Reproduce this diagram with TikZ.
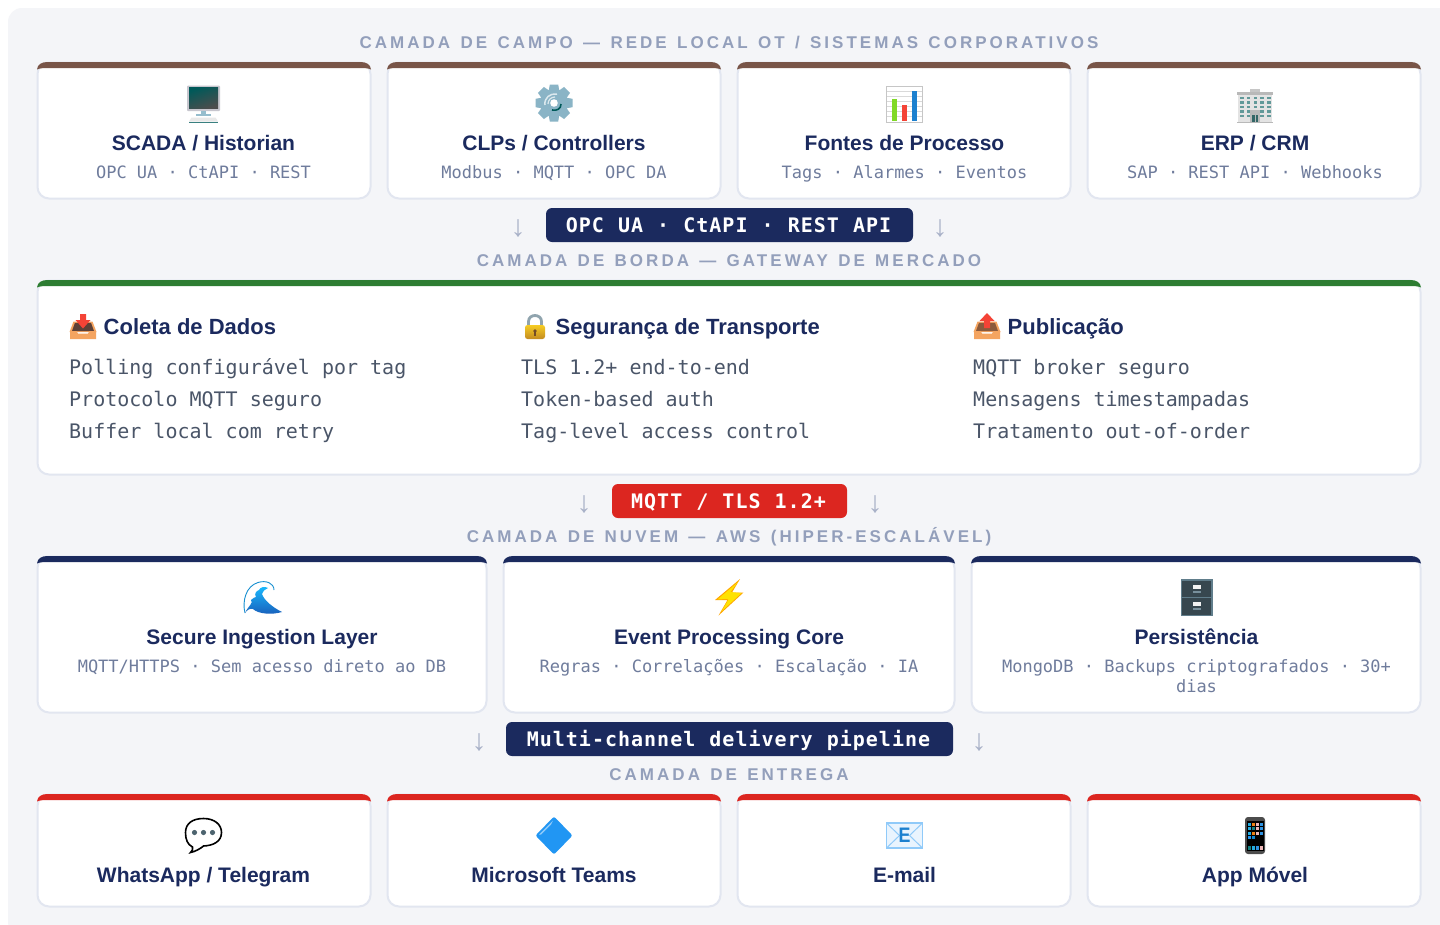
\documentclass[tikz,border=0pt]{standalone}
\usepackage{fontspec}
\setmainfont{Liberation Sans}
\newfontfamily\monof{DejaVu Sans Mono}
\newfontfamily\labelf[LetterSpace=17.8,WordSpace=1.33]{Liberation Sans}
\newfontfamily\badgef[LetterSpace=5,WordSpace=1.08,BoldFont={DejaVu Sans Mono Bold}]{DejaVu Sans Mono}
\definecolor{panelbg}{HTML}{F4F5F8}
\definecolor{cardline}{HTML}{E2E6F0}
\definecolor{navy}{HTML}{1B2A5E}
\definecolor{brownb}{HTML}{795548}
\definecolor{greenb}{HTML}{2E7D32}
\definecolor{redb}{HTML}{DC2620}
\definecolor{subc}{HTML}{6F7C9C}
\definecolor{labc}{HTML}{939FBB}
\definecolor{bodyc}{HTML}{4A5568}
\definecolor{arrc}{HTML}{A8B1C8}
\definecolor{gearc}{HTML}{8AB4C6}
\definecolor{trayc}{HTML}{F4A460}
\definecolor{trayd}{HTML}{5D4037}
\definecolor{traye}{HTML}{8B5A3C}
\definecolor{arrowred}{HTML}{F44336}
\definecolor{gold}{HTML}{F2B632}
\definecolor{shackle}{HTML}{90A4AE}
\definecolor{frameb}{HTML}{607D8B}
\definecolor{drawer}{HTML}{37474F}
\definecolor{handle}{HTML}{78909C}
\definecolor{skyb}{HTML}{2196F3}
\definecolor{paleb}{HTML}{90CAF9}
\tikzset{
 cardbox/.style={draw=cardline,fill=white,line width=2pt,rounded corners=11.5pt,inner sep=0pt,outer sep=0pt},
 ttl/.style={anchor=base,font=\fontsize{21}{26}\selectfont\bfseries,text=navy,inner sep=0pt},
 sub/.style={anchor=base,font=\fontsize{17}{20}\selectfont\monof,text=subc,inner sep=0pt,align=center},
 lab/.style={anchor=base,font=\fontsize{17}{20}\selectfont\bfseries\labelf,text=labc,inner sep=0pt},
 head/.style={anchor=base west,font=\fontsize{22}{26}\selectfont\bfseries,text=navy,inner sep=0pt},
 bodyt/.style={anchor=base west,font=\fontsize{20}{24}\selectfont\monof,text=bodyc,inner sep=0pt},
 badge/.style={rounded corners=6pt,inner sep=0pt,outer sep=0pt,text=white,text height=15pt,text depth=0pt,font=\fontsize{20}{24}\selectfont\badgef\bfseries},
 arr/.style={anchor=center,font=\fontsize{30}{30}\selectfont,text=arrc,inner sep=0pt},
}
% name, x1, y1, x2, y2, colour
\newcommand{\cardat}[6]{%
 \pgfmathsetmacro{\cw}{#4-#2-1}\pgfmathsetmacro{\ch}{#5-#3-1}%
 \pgfmathsetmacro{\cx}{(#2+#4)/2}\pgfmathsetmacro{\cy}{(#3+#5)/2}%
 \node[cardbox,minimum width=\cw pt,minimum height=\ch pt] (#1) at (\cx,\cy) {};
 \pgfmathsetmacro{\xa}{#2-0.5}\pgfmathsetmacro{\xb}{#4+0.5}\pgfmathsetmacro{\ya}{#3}%
 \fill[#6] (\xa+0.5,\ya+7.5) .. controls (\xa+1,\ya+2.5) and (\xa+5,\ya) .. (\xa+11,\ya) -- (\xb-11,\ya)
   .. controls (\xb-5,\ya) and (\xb-1,\ya+2.5) .. (\xb-0.5,\ya+7.5)
   .. controls (\xb-3,\ya+6.2) and (\xb-7,\ya+6) .. (\xb-12,\ya+6) -- (\xa+12,\ya+6)
   .. controls (\xa+7,\ya+6) and (\xa+3,\ya+6.2) .. cycle;
}
% tray icon: x,y centre, inner colour
\newcommand{\tray}[3]{%
 \begin{scope}[shift={(#1,#2)}]
  \fill[trayc] (-13.5,6) -- (-9.5,-4.5) -- (9.5,-4.5) -- (13.5,6) -- cycle;
  \fill[#3] (-11,5) -- (-8,-3.2) -- (8,-3.2) -- (11,5) -- cycle;
  \fill[trayc] (-13,5) -- (-6.5,5) -- (-5,7.5) -- (5,7.5) -- (6.5,5) -- (13,5) -- (13,13) -- (-13,13) -- cycle;
 \end{scope}}
\begin{document}
\begin{tikzpicture}[x=1pt,y=-1pt]
\useasboundingbox (0,0) rectangle (1440,924);
\fill[white] (0,0) rectangle (1440,924);
\begin{scope}
\clip (0,0) rectangle (1440,924);
\fill[panelbg,rounded corners=14pt] (8,8) rectangle (1470,936);
\end{scope}

% ---- layer labels
\node[lab] (lab1) at (729,48) {CAMADA DE CAMPO — REDE LOCAL OT / SISTEMAS CORPORATIVOS};
\node[lab] (lab2) at (729,266) {CAMADA DE BORDA — GATEWAY DE MERCADO};
\node[lab] (lab3) at (729,542) {CAMADA DE NUVEM — AWS (HIPER-ESCALÁVEL)};
\node[lab] (lab4) at (729,780) {CAMADA DE ENTREGA};

% ---- field row
\cardat{c1}{37}{62}{371}{199}{brownb}
\cardat{c2}{387}{62}{721}{199}{brownb}
\cardat{c3}{737}{62}{1071}{199}{brownb}
\cardat{c4}{1087}{62}{1421}{199}{brownb}
\node[ttl] (t1) at (203.5,150.5) {SCADA / Historian};
\node[ttl] (t2) at (554,150.5) {CLPs / Controllers};
\node[ttl] (t3) at (904.5,150.5) {Fontes de Processo};
\node[ttl] (t4) at (1255,150.5) {ERP / CRM};
\node[sub] (s1) at (203.5,178) {OPC UA · CtAPI · REST};
\node[sub] (s2) at (554,178) {Modbus · MQTT · OPC DA};
\node[sub] (s3) at (904.5,178) {Tags · Alarmes · Eventos};
\node[sub] (s4) at (1255,178) {SAP · REST API · Webhooks};

% monitor icon
\begin{scope}[shift={(203.5,103.5)}]
 \fill[rounded corners=1pt,cyan!18!blue!12!gray!45] (-16.5,-18) rectangle (16.5,7.5);
 \shade[left color=teal!70!black,right color=black!70,shading angle=20] (-14.5,-16) rectangle (14.5,5);
 \fill[cyan!40!gray!70] (-2.5,7.5) rectangle (2.5,10.5);
 \fill[cyan!40!gray!70] (-7.5,10.5) rectangle (7.5,12.5);
 \fill[gray!18] (-12,14) -- (12,14) -- (14.5,18) -- (-14.5,18) -- cycle;
 \fill[teal!55!gray] (-14.5,18) rectangle (14.5,19.5);
\end{scope}

% gear icon
\begin{scope}[shift={(554,103)}]
 \foreach \a in {0,45,...,315}{\fill[gearc,rotate=\a] (-4.2,-18.5) -- (4.2,-18.5) -- (5.5,-11) -- (-5.5,-11) -- cycle;}
 \fill[gearc] (0,0) circle (14);
 \draw[white!70!gearc,line width=1.5pt] (-9,2) .. controls (-10,-5) and (-4,-10) .. (3,-9);
 \draw[white!70!gearc,line width=1.2pt] (-6,1) .. controls (-6,-3) and (-3,-6) .. (1,-6);
 \draw[teal!70!black,line width=1.6pt] (7,1) .. controls (7,6) and (3,8) .. (-2,7);
 \fill[white] (0,0) circle (3.8);
\end{scope}

% chart icon
\begin{scope}[shift={(904.5,104)}]
 \fill[white] (-18,-18) rectangle (18,18);
 \foreach \y in {-13,-8,...,12}{\draw[gray!30,line width=0.7pt] (-18,\y) -- (18,\y);}
 \draw[gray!45,line width=1pt] (-18,-18) rectangle (18,18);
 \fill[green!50!yellow!70!gray] (-13,-5) rectangle (-8,17);
 \fill[arrowred] (-3,0.5) rectangle (2,17);
 \fill[skyb!85!black] (7,-13) rectangle (12,17);
\end{scope}

% building icon
\begin{scope}[shift={(1255,105.5)}]
 \fill[gray!45] (-5,-17) rectangle (5,-13.5);
 \fill[gray!55] (-18,-14) rectangle (18,-11);
 \fill[gray!22] (-17,-11) rectangle (17,16);
 \foreach \y in {-9,-4.5,0,4.5,9}{\foreach \x in {-15,-8.5,-1.5,5,12}{\fill[teal!55!gray!80] (\x,\y) rectangle +(3.6,2.5);}}
 \fill[gray!55] (-5,4) rectangle (5,16);
 \fill[teal!50!black!80] (-3,9) rectangle (-0.5,16);
 \fill[teal!50!black!80] (0.5,9) rectangle (3,16);
 \fill[gray!55] (-18,16) rectangle (18,17.5);
\end{scope}

% ---- connector glyphs and badge
\node[arr] (a1) at (518,229) {↓};
\node[arr] (a2) at (940,229) {↓};
\node[badge,fill=navy,minimum width=367pt,minimum height=34pt] (b1) at (729.5,225) {\hspace*{-2pt}OPC UA · CtAPI · REST API};

% ---- gateway
\cardat{gw}{37}{280}{1421}{475}{greenb}
\tray{83}{326}{trayd}
\fill[arrowred] (80,314) -- (86,314) -- (86,320) -- (90.5,320) -- (83,328.5) -- (75.5,320) -- (80,320) -- cycle;
\begin{scope}[shift={(535,327)}]
 \draw[shackle,line width=2.8pt] (-6.5,2) -- (-6.5,-5.5) .. controls (-6.5,-13.5) and (6.5,-13.5) .. (6.5,-5.5) -- (6.5,2);
 \shade[top color=gold!70!yellow,bottom color=gold!85!orange!80!black,rounded corners=2.5pt] (-10,-2) rectangle (10,12);
 \fill[brown!60!black] (0,4) circle (1.9);
 \fill[brown!60!black] (-0.8,4) rectangle (0.8,8.5);
\end{scope}
\tray{987}{326}{traye}
\fill[arrowred] (987,313) -- (994.5,321) -- (990,321) -- (990,328) -- (984,328) -- (984,321) -- (979.5,321) -- cycle;
\node[head] (h1) at (103.5,334.5) {Coleta de Dados};
\node[head] (h2) at (555.5,334.5) {Segurança de Transporte};
\node[head] (h3) at (1007.5,334.5) {Publicação};
\node[bodyt] (p11) at (69,374) {Polling configurável por tag};
\node[bodyt] (p12) at (69,406) {Protocolo MQTT seguro};
\node[bodyt] (p13) at (69,438) {Buffer local com retry};
\node[bodyt] (p21) at (521,374) {TLS 1.2+ end-to-end};
\node[bodyt] (p22) at (521,406) {Token-based auth};
\node[bodyt] (p23) at (521,438) {Tag-level access control};
\node[bodyt] (p31) at (973,374) {MQTT broker seguro};
\node[bodyt] (p32) at (973,406) {Mensagens timestampadas};
\node[bodyt] (p33) at (973,438) {Tratamento out-of-order};

\node[arr] (a3) at (584,505) {↓};
\node[arr] (a4) at (875,505) {↓};
\node[badge,fill=redb,minimum width=235pt,minimum height=34pt] (b2) at (729.5,501) {\hspace*{-2pt}MQTT / TLS 1.2+};

% ---- cloud
\cardat{k1}{37}{556}{487}{713}{navy}
\cardat{k2}{503}{556}{955}{713}{navy}
\cardat{k3}{971}{556}{1421}{713}{navy}
\node[ttl] (kt1) at (262,644) {Secure Ingestion Layer};
\node[ttl] (kt2) at (729,644) {Event Processing Core};
\node[ttl] (kt3) at (1196.5,644) {Persistência};
\node[sub] (ks1) at (262,672) {MQTT/HTTPS · Sem acesso direto ao DB};
\node[sub] (ks2) at (729,672) {Regras · Correlações · Escalação · IA};
\node[sub] (ks3a) at (1196.5,672) {MongoDB · Backups criptografados · 30+};
\node[sub] (ks3b) at (1196.5,692) {dias};

% wave icon
\begin{scope}[shift={(262,598)}]
 \fill[white] (-17,15) .. controls (-20,3) and (-16,-12) .. (-4,-15.5) .. controls (4,-18) and (12,-15) .. (12,-8) -- (0,-6) -- cycle;
 \draw[skyb!70!teal,line width=0.9pt] (-17,15) .. controls (-20,3) and (-16,-12) .. (-4,-15.5) .. controls (4,-18) and (12,-15) .. (12,-8);
 \shade[top color=cyan!70!blue!90,bottom color=blue!40!teal!90] (-17,15) .. controls (-14,8) and (-8,5) .. (-11,2) .. controls (-9,0) and (-7,-1) .. (-6,-1)
   .. controls (-8,-4) and (-6,-7) .. (-3,-8) .. controls (-2,-11) and (3,-12) .. (6,-10) .. controls (3,-8) and (0,-7) .. (0,-4)
   .. controls (2,2) and (10,9) .. (20,14) .. controls (10,17) and (-4,16) .. (-9,11) .. controls (-12,10) and (-15,12) .. (-17,15) -- cycle;
\end{scope}

% bolt icon
\begin{scope}[shift={(729.5,597.5)}]
 \fill[orange!70!yellow] (10.5,-18.5) -- (-14.5,2.5) -- (-2,2.5) -- (-11,18) -- (14,-5) -- (2.5,-5) -- cycle;
 \fill[yellow!85!orange] (8.5,-15.5) -- (-12,2) -- (-3,1.5) -- (-1,2) -- (-8,14) -- (12,-4.5) -- (1,-5.5) -- cycle;
\end{scope}

% cabinet icon
\begin{scope}[shift={(1196.5,597.5)}]
 \fill[frameb] (-16,-18.5) rectangle (16,18.5);
 \fill[drawer] (-14.5,-17) rectangle (14.5,-0.8);
 \fill[drawer] (-14.5,0.8) rectangle (14.5,17);
 \fill[white!90!gray] (-4,-13) rectangle (4,-9);
 \fill[handle] (-4,-7) rectangle (4,-4.5);
 \fill[white!90!gray] (-4,4) rectangle (4,8);
 \fill[handle] (-4,10) rectangle (4,12.5);
\end{scope}

\node[arr] (a5) at (479,743) {↓};
\node[arr] (a6) at (979,743) {↓};
\node[badge,fill=navy,minimum width=447pt,minimum height=34pt] (b3) at (729.5,739) {\hspace*{-2pt}Multi-channel delivery pipeline};

% ---- delivery
\cardat{d1}{37}{794}{371}{907}{redb}
\cardat{d2}{387}{794}{721}{907}{redb}
\cardat{d3}{737}{794}{1071}{907}{redb}
\cardat{d4}{1087}{794}{1421}{907}{redb}
\node[ttl] (dt1) at (203.5,882) {WhatsApp / Telegram};
\node[ttl] (dt2) at (554,882) {Microsoft Teams};
\node[ttl] (dt3) at (904.5,882) {E-mail};
\node[ttl] (dt4) at (1255,882) {App Móvel};

% speech bubble
\begin{scope}[shift={(203.5,834.5)}]
 \draw[black,fill=white,line width=1.6pt] (-11,12.5) .. controls (-16,10) and (-18,5) .. (-18,-2)
   .. controls (-18,-11) and (-11,-16) .. (0,-16) .. controls (11,-16) and (18,-10) .. (18,-2)
   .. controls (18,7) and (10,11) .. (0,11.5) .. controls (-3,14) and (-8,17) .. (-13,18) .. controls (-11,16.5) and (-10.5,14.5) .. (-11,12.5) -- cycle;
 \foreach \x in {-9,0,9}{\fill[frameb!80!black] (\x,-2) circle (2.6);}
\end{scope}

% blue diamond
\begin{scope}[shift={(554,835.5)}]
 \fill[skyb,rounded corners=2pt] (0,-19) -- (18.5,0) -- (0,19) -- (-18.5,0) -- cycle;
 \fill[paleb] (-1,-15) -- (-3,-11) -- (-13,-1) -- (-15,-1) -- cycle;
\end{scope}

% e-mail icon
\begin{scope}[shift={(904.5,835.5)}]
 \fill[paleb!20!white] (-18,-12.5) rectangle (18,12.5);
 \draw[paleb,line width=1.2pt] (-18,-12.5) rectangle (18,12.5);
 \draw[paleb,line width=1pt] (-18,-12.5) -- (-5,0) -- (-18,12.5) (18,-12.5) -- (5,0) -- (18,12.5);
 \node[inner sep=0pt,text=skyb!85!black,xscale=0.85,font=\fontsize{21}{21}\selectfont\bfseries] (mailE) at (0,0) {E};
\end{scope}

% phone icon
\begin{scope}[shift={(1255,835.5)}]
 \fill[gray!60!black,rounded corners=3pt] (-10,-18.5) rectangle (10,18.5);
 \fill[black] (-8.5,-15) rectangle (8.5,15);
 \foreach \y/\c in {-13/orange,-8.5/teal,-4/orange}{
  \foreach \x/\d in {-7.5/cyan,-3.4/\c,0.7/pink,4.8/skyb}{\fill[\d!85!gray] (\x,\y) rectangle +(3,3);}}
 \fill[skyb] (-7.5,0.5) rectangle +(3,3);
 \fill[cyan!70!blue] (-3.4,0.5) rectangle +(3,3);
 \foreach \x/\d in {-7.5/teal,-3.4/cyan,0.7/skyb,4.8/pink}{\fill[\d!85!gray] (\x,10.5) rectangle +(3,3.5);}
\end{scope}
\end{tikzpicture}
\end{document}
